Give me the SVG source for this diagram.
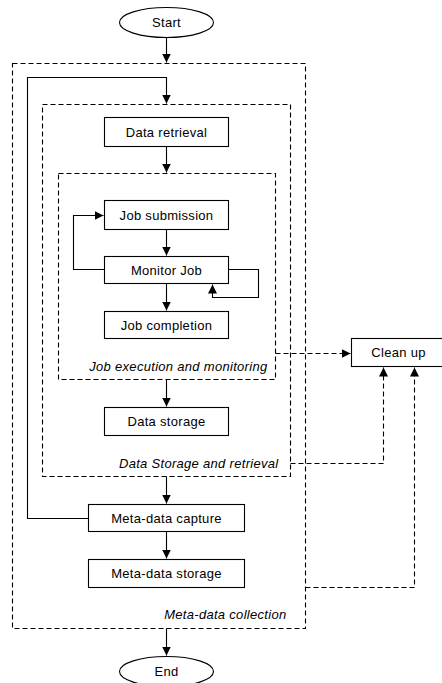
<svg xmlns="http://www.w3.org/2000/svg" width="442" height="683" viewBox="0 0 442 683">
<defs>
<marker id="ah" markerWidth="10" markerHeight="10" refX="9" refY="5" orient="auto" markerUnits="userSpaceOnUse">
<path d="M0,0.5 L9,5 L0,9.5 Z" fill="#000"/>
</marker>
<style>
.bg{fill:#fff}
.node rect,.node ellipse{fill:#fff;stroke:#000;stroke-width:1.1}
.grp rect{fill:none;stroke:#000;stroke-width:1.1;stroke-dasharray:5,3}
text{font-family:"Liberation Sans",Arial,sans-serif;font-size:13px;letter-spacing:0.3px;fill:#000}
.lbl{text-anchor:middle;dominant-baseline:central}
.it{font-style:italic;text-anchor:end}
.c path{fill:none;stroke:#000;stroke-width:1.1}
.c path.d{stroke-dasharray:5,3}
</style>
</defs>
<rect class="bg" x="0" y="0" width="442" height="683"/>
<g transform="translate(0.5,0.5)">
<g id="groups" class="grp">
<g id="meta-data-collection"><rect x="12" y="63" width="293" height="565"/><text class="it" x="286" y="618">Meta-data collection</text></g>
<g id="data-storage-retrieval"><rect x="42" y="104" width="248" height="372"/><text class="it" x="278" y="467">Data Storage and retrieval</text></g>
<g id="job-execution-monitoring"><rect x="58" y="173" width="217" height="206"/><text class="it" x="267" y="370">Job execution and monitoring</text></g>
</g>
<g id="connectors" class="c">
<path d="M166,37 V62" marker-end="url(#ah)"/>
<path d="M88,518 H27 V77 H166 V103" marker-end="url(#ah)"/>
<path d="M166,146 V172" marker-end="url(#ah)"/>
<path d="M104,269 H73 V215 H103" marker-end="url(#ah)"/>
<path d="M166,229 V255" marker-end="url(#ah)"/>
<path d="M228,269 H258 V297 H212 V284" marker-end="url(#ah)"/>
<path d="M166,283 V310" marker-end="url(#ah)"/>
<path d="M166,379 V406" marker-end="url(#ah)"/>
<path d="M166,476 V503" marker-end="url(#ah)"/>
<path d="M166,531 V558" marker-end="url(#ah)"/>
<path d="M166,628 V655" marker-end="url(#ah)"/>
<path class="d" d="M275,353 H350" marker-end="url(#ah)"/>
<path class="d" d="M290,463 H383 V367" marker-end="url(#ah)"/>
<path class="d" d="M305,587 H414 V367" marker-end="url(#ah)"/>
</g>
<g id="start" class="node"><ellipse cx="166" cy="22" rx="47" ry="15"/><text class="lbl" x="166" y="22">Start</text></g>
<g id="data-retrieval" class="node"><rect x="104" y="117" width="124" height="29"/><text class="lbl" x="166" y="131.5">Data retrieval</text></g>
<g id="job-submission" class="node"><rect x="104" y="200" width="124" height="29"/><text class="lbl" x="166" y="214.5">Job submission</text></g>
<g id="monitor-job" class="node"><rect x="104" y="256" width="124" height="27"/><text class="lbl" x="166" y="269.5">Monitor Job</text></g>
<g id="job-completion" class="node"><rect x="104" y="311" width="124" height="27"/><text class="lbl" x="166" y="324.5">Job completion</text></g>
<g id="data-storage" class="node"><rect x="104" y="407" width="124" height="28"/><text class="lbl" x="166" y="421">Data storage</text></g>
<g id="meta-data-capture" class="node"><rect x="88" y="504" width="156" height="27"/><text class="lbl" x="166" y="517.5">Meta-data capture</text></g>
<g id="meta-data-storage" class="node"><rect x="88" y="559" width="156" height="28"/><text class="lbl" x="166" y="573">Meta-data storage</text></g>
<g id="clean-up" class="node"><rect x="351" y="338" width="96" height="28"/><text class="lbl" x="398" y="352">Clean up</text></g>
<g id="end" class="node"><ellipse cx="166" cy="671" rx="47" ry="15"/><text class="lbl" x="166" y="671">End</text></g>
</g>
</svg>
